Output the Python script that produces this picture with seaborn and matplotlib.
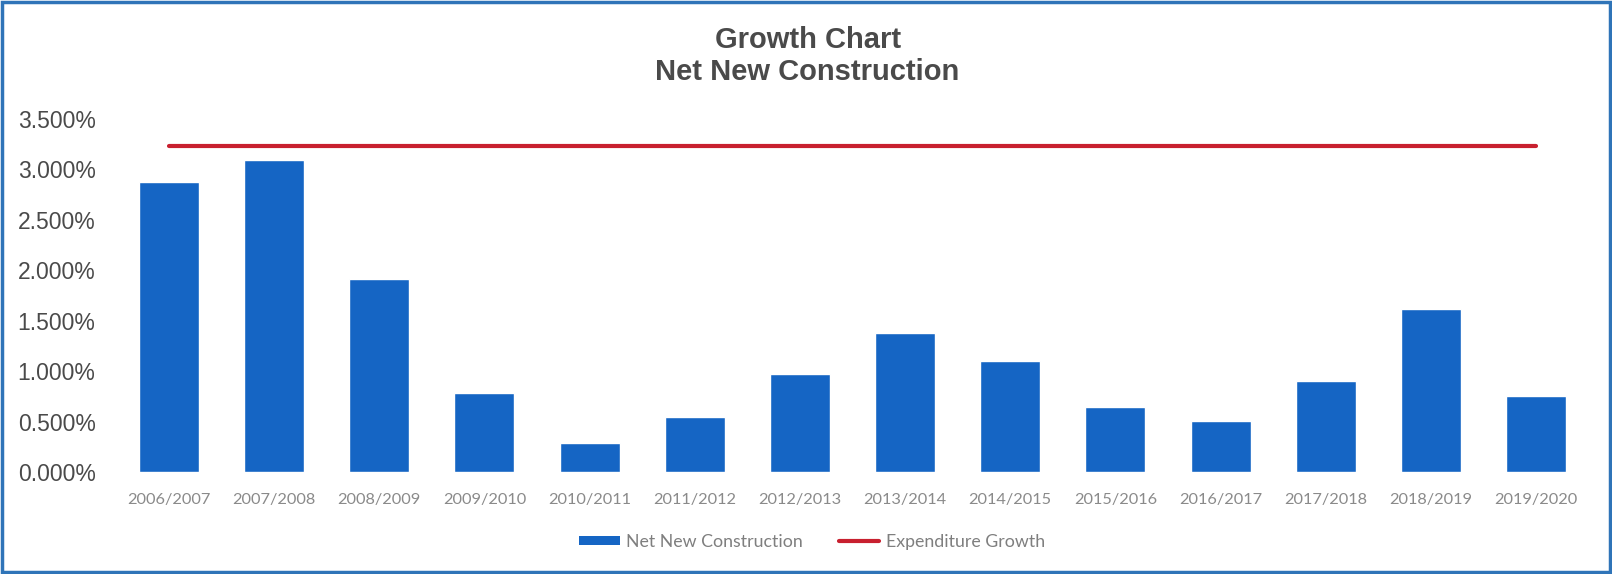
import numpy as np
import matplotlib
matplotlib.use("Agg")
import matplotlib.pyplot as plt
from matplotlib.patches import Rectangle, Patch
from matplotlib.lines import Line2D
from matplotlib.ticker import FuncFormatter, MultipleLocator
import seaborn as sns

# Fiscal periods and growth rates (percent)
periods = ["2006/2007", "2007/2008", "2008/2009", "2009/2010", "2010/2011",
           "2011/2012", "2012/2013", "2013/2014", "2014/2015", "2015/2016",
           "2016/2017", "2017/2018", "2018/2019", "2019/2020"]
net_new_construction = [2.88, 3.09, 1.91, 0.78, 0.29, 0.55, 0.97,
                        1.375, 1.10, 0.64, 0.51, 0.90, 1.62, 0.75]
expenditure_growth = [3.23] * len(periods)

title_lines = ["Growth Chart", "Net New Construction"]
legend_labels = ["Net New Construction", "Expenditure Growth"]

BAR_BLUE = "#1565C4"
LINE_RED = "#C8202F"
FRAME_BLUE = "#2F74B8"

sns.set_theme(style="white")
plt.rcParams["font.family"] = ["Liberation Sans", "DejaVu Sans"]

fig = plt.figure(figsize=(16.12, 5.74), dpi=100)
ax = fig.add_axes([0.0722, 0.1777, 0.9133, 0.615])

sns.barplot(x=periods, y=net_new_construction, color=BAR_BLUE,
            saturation=1, width=0.57, ax=ax)
sns.lineplot(x=np.arange(len(periods)), y=expenditure_growth,
             color=LINE_RED, linewidth=3, ax=ax)

ax.set_xlim(-0.5, len(periods) - 0.5)
ax.set_ylim(0, 3.5)
ax.yaxis.set_major_locator(MultipleLocator(0.5))
ax.yaxis.set_major_formatter(FuncFormatter(lambda v, _: f"{v:.3f}%"))
ax.set_xlabel("")
ax.set_ylabel("")
for s in ax.spines.values():
    s.set_visible(False)
ax.tick_params(axis="y", length=0, pad=15, labelsize=16.5, labelcolor="#4a4a4a")
ax.tick_params(axis="x", length=0, pad=15, labelsize=11.8, labelcolor="#8a8a8a")
for lab in ax.get_xticklabels():
    lab.set_fontfamily(["Lato", "DejaVu Sans"])

# Two-line centred heading
fig.text(0.501, 1 - 56 / 574, "\n".join(title_lines), ha="center", va="center",
         fontsize=21, fontweight="bold", color="#4a4a4a", linespacing=1.18)

handles = [Patch(facecolor=BAR_BLUE, edgecolor="none"),
           Line2D([0], [0], color=LINE_RED, linewidth=3)]
fig.legend(handles, legend_labels, loc="center", ncol=2, frameon=False,
           bbox_to_anchor=(812 / 1612, 1 - 542 / 574),
           prop={"family": ["Lato", "DejaVu Sans"], "size": 12.8},
           labelcolor="#7f7f7f", handlelength=2.3, handleheight=0.45,
           handletextpad=0.35, columnspacing=2.0)

# Outer blue frame
fig.patches.append(Rectangle((0.0015, 0.003), 0.997, 0.994, transform=fig.transFigure,
                             fill=False, edgecolor=FRAME_BLUE, linewidth=2.5))

fig.savefig("out.png", dpi=100, facecolor="white")
